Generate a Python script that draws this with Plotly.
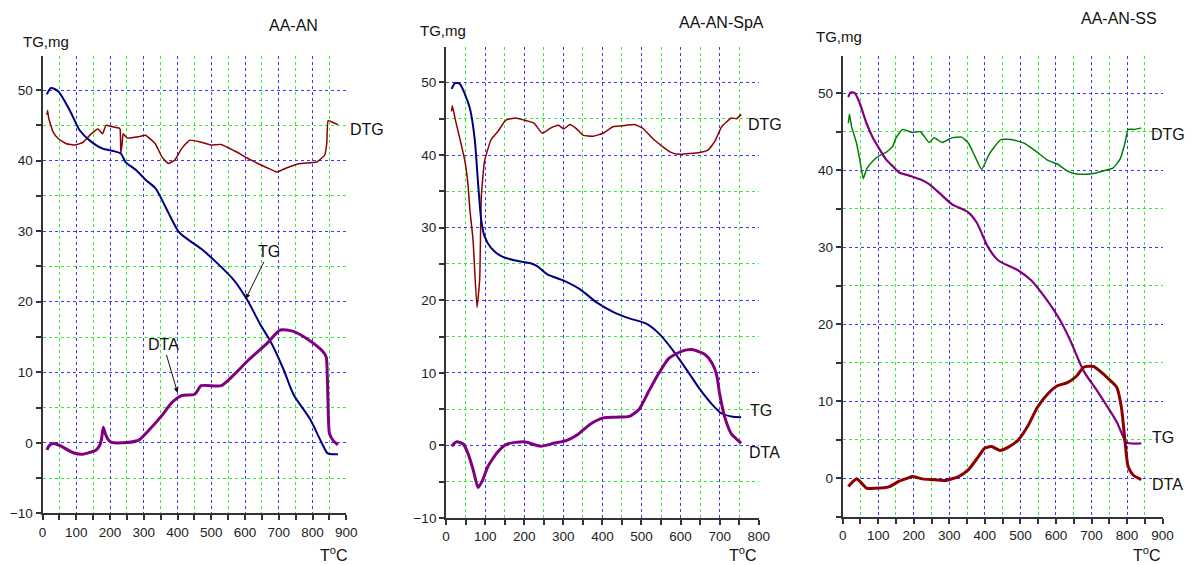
import plotly.graph_objects as go

# ---------------- AA-AN ----------------
an_tg_t = [13, 25, 47, 81, 110, 141, 178, 207, 232, 246, 276, 305, 334, 349, 373, 402, 417,
           470, 519, 568, 607, 646, 675, 714, 743, 792, 826, 845, 875]
an_tg_v = [49.4, 50.3, 49.8, 47.1, 44.3, 42.8, 41.7, 41.4, 41.0, 39.8, 38.7, 37.3, 36.1, 34.9,
           32.6, 30.0, 29.3, 27.5, 25.4, 23.0, 20.2, 16.7, 14.4, 10.4, 6.9, 3.4, 0.1, -1.5, -1.6]

an_dtg_t = [13, 15, 18, 22, 32, 47, 71, 96, 120, 144, 164, 178, 188, 207, 227, 230, 232, 236,
            239, 251, 285, 305, 334, 354, 373, 392, 412, 436, 470, 500, 529, 568, 617, 665,
            695, 724, 763, 812, 836, 842, 846, 860, 875]
an_dtg_v = [46.5, 47.1, 46.1, 45.4, 44.0, 43.1, 42.4, 42.2, 42.6, 43.8, 44.5, 43.8, 45.0, 44.8,
            44.6, 44.4, 41.0, 42.5, 43.8, 43.2, 43.4, 43.6, 42.4, 40.5, 39.6, 40.1, 41.7, 42.9,
            42.6, 42.2, 42.3, 41.4, 40.1, 39.0, 38.4, 39.0, 39.6, 39.8, 40.8, 42.5, 45.7, 45.4, 45.1]

an_dta_t = [13, 20, 32, 52, 91, 120, 159, 170, 175, 180, 186, 194, 203, 237, 285, 315, 354,
            383, 412, 451, 470, 529, 568, 607, 665, 704, 743, 782, 821, 836, 841, 845, 850,
            860, 875]
an_dta_v = [-1.0, -0.4, -0.1, -0.4, -1.4, -1.6, -1.0, -0.3, 0.6, 2.2, 1.3, 0.5, 0.1, 0.0, 0.4,
            1.8, 3.9, 5.7, 6.7, 6.9, 8.1, 8.1, 9.7, 11.6, 14.1, 16.0, 15.8, 14.8, 13.4, 12.6,
            12.0, 6.9, 1.3, 0.4, -0.3]

# ---------------- AA-AN-SpA ----------------
spa_tg_t = [14, 23, 35, 48, 61, 73, 82, 90, 98.5, 115, 140, 174, 216, 233, 258, 301, 343,
            385, 427, 469, 511, 545, 579, 621, 646, 680, 705, 730, 755]
spa_tg_v = [49.1, 49.9, 49.8, 48.4, 46.4, 42.3, 36.0, 31.0, 28.8, 27.2, 26.1, 25.5, 25.1,
            24.7, 23.6, 22.7, 21.5, 19.7, 18.4, 17.5, 16.8, 15.4, 13.2, 10.0, 8.0, 5.7, 4.4,
            4.0, 3.9]

spa_dtg_t = [14, 16, 23, 35, 48, 56, 61, 69, 79, 86, 90, 98.5, 115, 132, 153, 178, 200,
             225, 246, 267, 288, 301, 317, 334, 351, 376, 402, 427, 461, 482, 503, 528, 553,
             574, 595, 620, 646, 671, 688, 705, 730, 743, 755]
spa_dtg_v = [46.0, 46.8, 45.0, 42.3, 39.2, 36.0, 32.4, 28.3, 19.0, 22.9, 34.2, 39.2, 42.1,
             43.2, 44.8, 45.1, 44.8, 44.4, 43.0, 43.7, 44.1, 43.6, 44.2, 43.6, 42.7, 42.6,
             43.0, 43.9, 44.1, 44.2, 43.7, 42.3, 41.2, 40.4, 40.1, 40.2, 40.3, 40.7, 41.9,
             43.9, 45.1, 45.0, 45.6]

spa_dta_t = [14, 27, 44, 56, 69, 82, 94, 107, 132, 157, 200, 242, 275, 309, 334, 368, 402,
             435, 469, 494, 519, 545, 570, 604, 629, 663, 680, 692, 700, 713, 730, 747, 755]
spa_dta_v = [-0.1, 0.5, 0.2, -1.1, -3.3, -5.8, -4.7, -2.9, -0.9, 0.2, 0.5, -0.1, 0.3, 0.7,
             1.4, 2.9, 3.8, 3.9, 4.0, 5.0, 7.5, 10.0, 12.0, 13.0, 13.2, 12.5, 11.4, 9.8, 7.1,
             3.9, 1.6, 0.7, 0.3]

# ---------------- AA-AN-SS ----------------
ss_tg_t = [16, 22, 34, 48, 67, 85, 104, 122, 141, 159, 187, 224, 243, 280, 307, 354, 377,
           409, 437, 493, 530, 567, 613, 641, 678, 715, 743, 771, 789, 798, 840]
ss_tg_v = [49.5, 50.1, 50.0, 48.7, 46.1, 44.2, 42.7, 41.4, 40.5, 39.7, 39.3, 38.7, 38.2,
           36.7, 35.6, 34.5, 33.2, 30.0, 28.3, 27.0, 25.7, 23.6, 20.4, 17.8, 13.9, 11.4, 9.4,
           7.3, 5.4, 4.6, 4.5]

ss_dtg_t = [16, 19, 25, 39, 48, 58, 67, 85, 104, 122, 141, 150, 169, 196, 219, 243, 257,
            280, 307, 335, 354, 372, 391, 409, 428, 446, 474, 511, 548, 576, 604, 632, 659,
            696, 733, 761, 780, 794, 803, 821, 840]
ss_dtg_v = [46.1, 47.3, 45.7, 43.5, 41.4, 38.9, 40.1, 41.2, 41.9, 42.3, 43.1, 44.2, 45.3,
            44.9, 45.0, 43.6, 44.2, 43.6, 44.2, 44.3, 43.5, 41.8, 40.1, 41.8, 43.1, 44.0,
            44.0, 43.5, 42.3, 41.3, 40.8, 39.9, 39.5, 39.5, 39.9, 40.3, 41.4, 43.5, 45.3,
            45.3, 45.5]

ss_dta_t = [16, 30, 39, 48, 67, 104, 132, 159, 183, 196, 224, 252, 289, 326, 354, 382, 400,
            419, 442, 465, 493, 520, 548, 576, 604, 632, 659, 678, 706, 729, 743, 771, 784,
            794, 803, 817, 840]
ss_dta_v = [-1.1, -0.4, -0.1, -0.4, -1.3, -1.3, -1.1, -0.4, 0.0, 0.2, -0.1, -0.2, -0.3, 0.2,
            1.1, 2.8, 3.9, 4.1, 3.6, 4.0, 4.9, 6.7, 9.2, 10.9, 12.0, 12.4, 13.3, 14.4, 14.5,
            13.7, 13.1, 11.8, 9.2, 4.9, 1.5, 0.4, -0.2]

NAVY = "#000080"
MAROON = "#8b0000"
PURPLE = "#800080"
GREEN = "#008000"
FONT = "Liberation Sans, Arial, sans-serif"
W, H = 1198, 565

fig = go.Figure()


def add_line(t, v, color, width, axis_idx, smooth):
    sfx = "" if axis_idx == 1 else str(axis_idx)
    fig.add_trace(go.Scatter(x=t, y=v, mode="lines",
                             line=dict(color=color, width=width, shape="spline",
                                       smoothing=smooth),
                             xaxis="x" + sfx, yaxis="y" + sfx,
                             showlegend=False, hoverinfo="skip"))


add_line(an_dtg_t, an_dtg_v, MAROON, 1.5, 1, 0.4)
add_line(an_tg_t, an_tg_v, NAVY, 2, 1, 0.7)
add_line(an_dta_t, an_dta_v, PURPLE, 3, 1, 0.6)

add_line(spa_dtg_t, spa_dtg_v, MAROON, 1.5, 2, 0.4)
add_line(spa_tg_t, spa_tg_v, NAVY, 2, 2, 0.7)
add_line(spa_dta_t, spa_dta_v, PURPLE, 3, 2, 0.6)

add_line(ss_dtg_t, ss_dtg_v, GREEN, 1.5, 3, 0.4)
add_line(ss_tg_t, ss_tg_v, PURPLE, 2.2, 3, 0.7)
add_line(ss_dta_t, ss_dta_v, MAROON, 3, 3, 0.6)


def px_x(p):
    return p / W


def px_y(p):
    return 1 - p / H


def xaxis(dom, rng):
    return dict(domain=[px_x(dom[0]), px_x(dom[1])], range=rng, dtick=100, tick0=0,
                showline=True, linecolor="#333333", linewidth=2,
                ticks="outside", ticklen=5, tickwidth=1.5, tickcolor="#333333",
                showgrid=True, gridcolor="#3a3aff", griddash="dot", gridwidth=1,
                zeroline=False,
                minor=dict(dtick=50, tick0=0, ticks="outside", ticklen=5, tickwidth=1.5,
                           tickcolor="#333333", showgrid=True, gridcolor="#33ee33",
                           griddash="dot", gridwidth=1),
                tickfont=dict(family=FONT, size=13.5, color="#222222"), fixedrange=True)


def yaxis(dom, rng, anchor):
    return dict(domain=[px_y(dom[1]), px_y(dom[0])], range=rng, dtick=10, tick0=0,
                anchor=anchor,
                showline=True, linecolor="#333333", linewidth=2,
                ticks="outside", ticklen=5, tickwidth=1.5, tickcolor="#333333",
                showgrid=True, gridcolor="#3a3aff", griddash="dot", gridwidth=1,
                zeroline=False,
                minor=dict(dtick=5, tick0=0, ticks="outside", ticklen=5, tickwidth=1.5,
                           tickcolor="#333333", showgrid=True, gridcolor="#33ee33",
                           griddash="dot", gridwidth=1),
                tickfont=dict(family=FONT, size=13.5, color="#222222"), fixedrange=True)


fig.update_layout(
    width=W, height=H,
    margin=dict(l=0, r=0, t=0, b=0),
    paper_bgcolor="white", plot_bgcolor="white",
    xaxis=dict(xaxis((39, 346.7), [0, 900]), anchor="y"),
    yaxis=yaxis((56.3, 520.8), [-10, 54.9], "x"),
    xaxis2=dict(xaxis((447.7, 764.3), [0, 800]), anchor="y2"),
    yaxis2=yaxis((47.5, 525.5), [-10, 54.9], "x2"),
    xaxis3=dict(xaxis((849.3, 1173.3), [0, 900]), anchor="y3"),
    yaxis3=yaxis((56.3, 524.0), [-5, 54.9], "x3"),
)


def label(text, cx, cy, size=15):
    fig.add_annotation(text=text, x=px_x(cx), y=px_y(cy), xref="paper", yref="paper",
                       xanchor="center", yanchor="middle", showarrow=False,
                       font=dict(family=FONT, size=size, color="#111111"))


# titles
label("AA-AN", 293.5, 25.5, 16)
label("AA-AN-SpA", 727, 22.5, 16)
label("AA-AN-SS", 1129.5, 18.5, 16)

# y-axis captions
label("TG,mg", 42.5, 42.5)
label("TG,mg", 445, 31)
label("TG,mg", 846, 37.5)

# curve names
label("DTG", 367.5, 131, 16)
label("DTG", 771, 126, 16)
label("TG", 767, 416, 16)
label("DTA", 770, 459, 16)
label("DTG", 1179, 136, 16)
label("TG", 1174, 444, 16)
label("DTA", 1178, 491, 16)

# temperature captions (partly below the page edge)
for cx in (334, 748, 1157):
    fig.add_annotation(text="T<sup>o</sup>C", x=px_x(cx), y=px_y(550), xref="paper",
                       yref="paper", xanchor="center", yanchor="top", showarrow=False,
                       font=dict(family=FONT, size=16, color="#111111"))

# arrow call-outs on the AA-AN panel
fig.add_annotation(text="TG", x=602, y=20.4, xref="x", yref="y", ax=23, ay=-47,
                   showarrow=True, arrowhead=2, arrowsize=1, arrowwidth=1,
                   arrowcolor="#111111", font=dict(family=FONT, size=16, color="#111111"))
fig.add_annotation(text="DTA", x=400, y=7.1, xref="x", yref="y", ax=-14, ay=-48,
                   showarrow=True, arrowhead=2, arrowsize=1, arrowwidth=1,
                   arrowcolor="#111111", font=dict(family=FONT, size=16, color="#111111"))

fig.write_html("out.html")
